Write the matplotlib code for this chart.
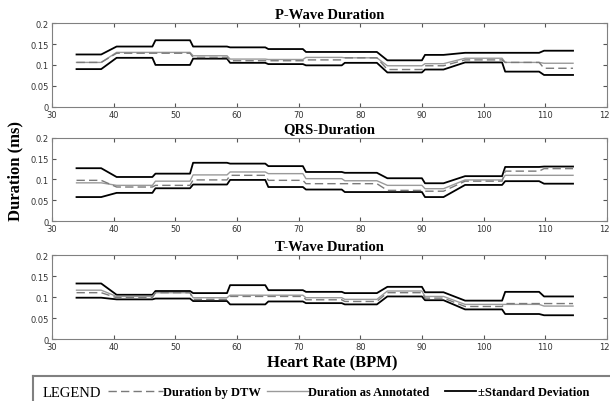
import numpy as np
import matplotlib
matplotlib.use('Agg')
import matplotlib.pyplot as plt
from matplotlib.lines import Line2D

# heart-rate bins (start / end of each flat segment)
seg_start = [34, 40.5, 46.8, 52.9, 58.9, 65.1, 71.2, 77.5, 84.4, 90.5, 97.0, 103.5, 109.8]
seg_end = [38, 46.3, 52.4, 58.4, 64.6, 70.7, 77.0, 82.7, 90.0, 93.5, 103.0, 109.0, 114.5]

titles = ['P-Wave Duration', 'QRS-Duration', 'T-Wave Duration']

# P-wave
p_upper = [0.125, 0.144, 0.159, 0.144, 0.142, 0.138, 0.131, 0.131, 0.111, 0.124, 0.129, 0.129, 0.134]
p_annot = [0.106, 0.130, 0.130, 0.122, 0.114, 0.113, 0.118, 0.117, 0.098, 0.103, 0.116, 0.106, 0.104]
p_dtw = [0.106, 0.128, 0.128, 0.118, 0.110, 0.110, 0.112, 0.117, 0.089, 0.098, 0.112, 0.106, 0.092]
p_lower = [0.090, 0.117, 0.100, 0.115, 0.105, 0.102, 0.099, 0.105, 0.082, 0.089, 0.106, 0.084, 0.076]

# QRS
q_upper = [0.127, 0.106, 0.114, 0.140, 0.138, 0.132, 0.118, 0.116, 0.103, 0.091, 0.108, 0.130, 0.131]
q_annot = [0.092, 0.086, 0.096, 0.111, 0.118, 0.114, 0.102, 0.097, 0.086, 0.078, 0.099, 0.110, 0.110]
q_dtw = [0.098, 0.082, 0.086, 0.099, 0.110, 0.098, 0.090, 0.090, 0.074, 0.072, 0.096, 0.120, 0.126]
q_lower = [0.058, 0.068, 0.079, 0.088, 0.099, 0.082, 0.076, 0.070, 0.070, 0.058, 0.087, 0.096, 0.090]

# T-wave
t_upper = [0.133, 0.106, 0.115, 0.110, 0.129, 0.117, 0.113, 0.110, 0.125, 0.112, 0.092, 0.113, 0.102]
t_annot = [0.117, 0.102, 0.111, 0.099, 0.105, 0.105, 0.099, 0.095, 0.115, 0.102, 0.083, 0.083, 0.079]
t_dtw = [0.111, 0.099, 0.111, 0.095, 0.102, 0.102, 0.094, 0.090, 0.111, 0.098, 0.078, 0.085, 0.085]
t_lower = [0.099, 0.095, 0.097, 0.091, 0.083, 0.090, 0.086, 0.083, 0.102, 0.093, 0.071, 0.060, 0.057]

panels = [
    (p_upper, p_annot, p_dtw, p_lower),
    (q_upper, q_annot, q_dtw, q_lower),
    (t_upper, t_annot, t_dtw, t_lower),
]

xticks = [30, 40, 50, 60, 70, 80, 90, 100, 110, 120]
yticks = [0, 0.05, 0.1, 0.15, 0.2]
ytick_labels = ['0', '0.05', '0.1', '0.15', '0.2']

serif = ['Liberation Serif', 'DejaVu Serif']

x = np.column_stack([seg_start, seg_end]).ravel()

def steps(vals):
    return np.repeat(vals, 2)

fig = plt.figure(figsize=(6.1, 4.02), dpi=100)
bottoms = [0.732, 0.447, 0.154]

for (upper, annot, dtw, lower), title, b in zip(panels, titles, bottoms):
    ax = fig.add_axes([0.085, b, 0.910, 0.208])
    ax.plot(x, steps(upper), color='black', lw=1.3)
    ax.plot(x, steps(lower), color='black', lw=1.3)
    ax.plot(x, steps(annot), color='#9a9a9a', lw=1.0)
    ax.plot(x, steps(dtw), color='#7a7a7a', lw=1.0, ls=(0, (6, 3)))
    ax.set_xlim(30, 120)
    ax.set_ylim(0, 0.2)
    ax.set_xticks(xticks)
    ax.set_yticks(yticks)
    ax.set_yticklabels(ytick_labels)
    ax.tick_params(direction='in', top=True, right=True, length=3,
                   labelsize=6, colors='#555555', labelcolor='#333333', pad=2)
    for s in ax.spines.values():
        s.set_color('#808080')
        s.set_linewidth(0.8)
    ax.set_title(title, fontsize=10.5, fontweight='bold', family=serif, pad=4)

fig.text(0.025, 0.575, 'Duration (ms)', rotation=90, ha='center', va='center',
         fontsize=12, fontweight='bold', family=serif)
fig.text(0.545, 0.097, 'Heart Rate (BPM)', ha='center', va='center',
         fontsize=12, fontweight='bold', family=serif)

# legend box
fig.add_artist(Line2D([0.054, 1.0], [0.062, 0.062], color='#808080', lw=1.5))
fig.add_artist(Line2D([0.054, 0.054], [0.0, 0.062], color='#808080', lw=1.5))
fig.text(0.070, 0.022, 'LEGEND', ha='left', va='center', fontsize=10.5, family=serif)
fig.add_artist(Line2D([0.177, 0.268], [0.024, 0.024], color='#7a7a7a', lw=1.0, ls=(0, (6, 3))))
fig.text(0.268, 0.022, 'Duration by DTW', ha='left', va='center', fontsize=9,
         fontweight='bold', family=serif)
fig.add_artist(Line2D([0.437, 0.505], [0.024, 0.024], color='#9a9a9a', lw=1.0))
fig.text(0.505, 0.022, 'Duration as Annotated', ha='left', va='center', fontsize=9,
         fontweight='bold', family=serif)
fig.add_artist(Line2D([0.730, 0.780], [0.024, 0.024], color='black', lw=1.3))
fig.text(0.783, 0.022, '\u00b1Standard Deviation', ha='left', va='center', fontsize=9,
         fontweight='bold', family=serif)

fig.savefig('out.png', dpi=100)
